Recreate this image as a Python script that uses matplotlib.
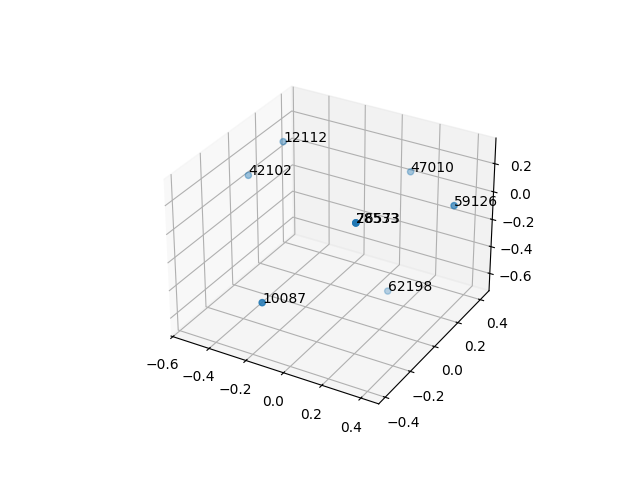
import matplotlib
matplotlib.use("Agg")
import matplotlib.pyplot as plt

labels = ["12112", "42102", "47010", "59126", "78533", "26573", "62198", "10087"]
xs = [-0.473, -0.576, 0.053, 0.447, 0.254, 0.254, 0.056, -0.103]
ys = [0.221, 0.093, 0.476, 0.204, -0.277, -0.277, 0.292, -0.454]
zs = [0.205, 0.019, -0.011, 0.096, 0.277, 0.277, -0.753, -0.269]

fig = plt.figure()
ax = fig.add_subplot(projection="3d")
ax.scatter(xs, ys, zs)
for x, y, z, name in zip(xs, ys, zs, labels):
    ax.text(x, y, z, name)

ax.set_xlim(-0.61, 0.49)
ax.set_ylim(-0.45, 0.48)
ax.set_zlim(-0.73, 0.38)

plt.savefig("out.png")
